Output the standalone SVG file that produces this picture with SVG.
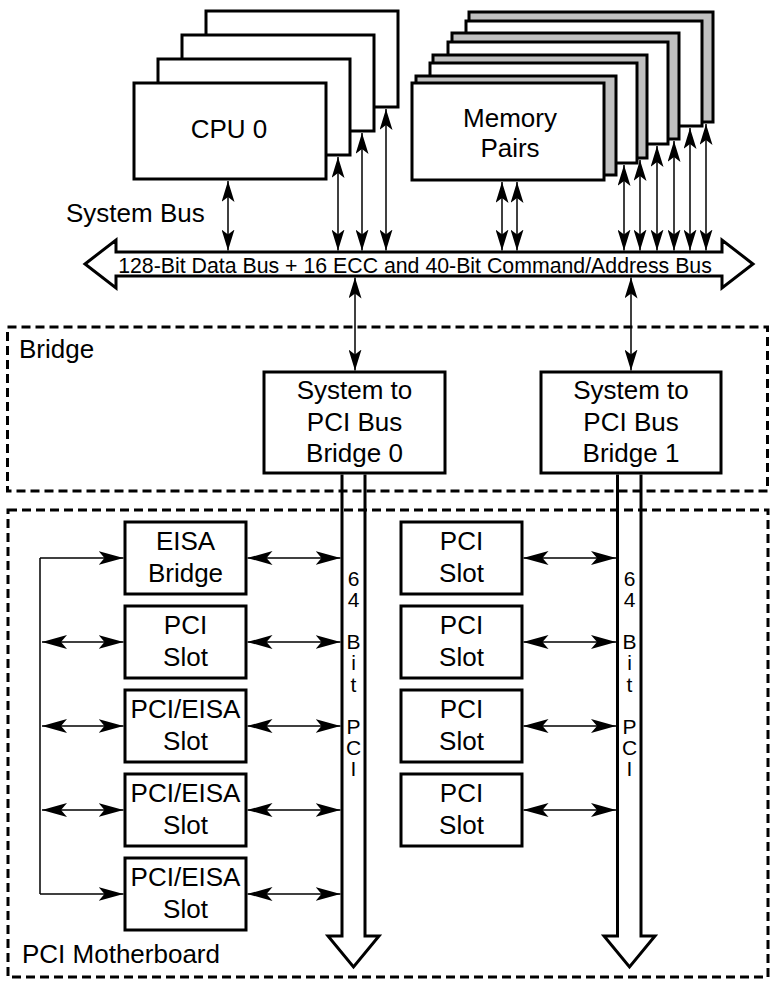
<svg xmlns="http://www.w3.org/2000/svg" width="770" height="982" viewBox="0 0 770 982">
<style>
.box{fill:#fff;stroke:#000;stroke-width:3}
.gray{fill:#c0c0c0;stroke:#000;stroke-width:3}
.dash{fill:none;stroke:#000;stroke-width:3;stroke-dasharray:9,5}
.lbl{font-family:"Liberation Sans",Arial,Helvetica,sans-serif;font-size:26px;fill:#000}
.c{text-anchor:middle}
.bus{font-family:"Liberation Sans",Arial,Helvetica,sans-serif;font-size:21.3px;fill:#000;text-anchor:middle}
.pipe{fill:none;stroke:#000;stroke-width:3}
.pt{font-family:"Liberation Sans",Arial,Helvetica,sans-serif;font-size:21px;fill:#000;text-anchor:middle}
.v{fill:none;stroke:#000;stroke-width:1.5;marker-start:url(#av);marker-end:url(#av)}
.h{fill:none;stroke:#000;stroke-width:1.5;marker-start:url(#ah);marker-end:url(#ah)}
.h1{fill:none;stroke:#000;stroke-width:1.5;marker-end:url(#ah)}
.ln{fill:none;stroke:#000;stroke-width:1.5}
</style>
<defs>
<marker id="av" markerUnits="userSpaceOnUse" viewBox="0 0 21 13" refX="21" refY="6.5" markerWidth="21" markerHeight="13" orient="auto-start-reverse">
<path d="M0,0 L21,6.5 L0,13 L5,6.5 Z" fill="#000"/>
</marker>
<marker id="ah" markerUnits="userSpaceOnUse" viewBox="0 0 25 14" refX="25" refY="7" markerWidth="25" markerHeight="14" orient="auto-start-reverse">
<path d="M0,0 L25,7 L0,14 L6,7 Z" fill="#000"/>
</marker>
</defs>
<rect width="770" height="982" fill="#fff"/>

<g id="bridge-region">
<rect class="dash" x="7.5" y="327" width="760" height="164"/>
<text class="lbl" x="19" y="358">Bridge</text>
</g>
<g id="motherboard-region">
<rect class="dash" x="8" y="510" width="760" height="467"/>
<text class="lbl" x="22" y="963">PCI Motherboard</text>
</g>

<g id="cpus">
<rect class="box" x="206" y="11" width="192" height="96"/>
<rect class="box" x="182" y="35" width="192" height="96"/>
<rect class="box" x="158" y="59" width="192" height="96"/>
<rect class="box" x="134" y="83" width="192" height="96"/>
<text class="lbl c" x="229" y="138">CPU 0</text>
</g>

<g id="memory">
<rect class="gray" x="469" y="12" width="244" height="110"/>
<rect class="box" x="466" y="21" width="236" height="105"/>
<rect class="gray" x="452" y="33" width="227" height="106"/>
<rect class="box" x="448" y="42" width="220" height="102"/>
<rect class="gray" x="433" y="55" width="214" height="103"/>
<rect class="box" x="430" y="63" width="207" height="100"/>
<rect class="gray" x="416" y="76" width="200" height="99"/>
<rect class="box" x="412" y="83" width="192" height="97"/>
<text class="lbl c" x="510" y="127">Memory</text>
<text class="lbl c" x="510" y="157">Pairs</text>
</g>

<g id="system-bus">
<polygon class="box" points="85,264 116,240 116,252 722,252 722,240 753,264 722,288 722,276 116,276 116,288"/>
<text class="bus" x="415" y="272.5">128-Bit Data Bus + 16 ECC and 40-Bit Command/Address Bus</text>
<text class="lbl" x="66" y="222">System Bus</text>
</g>

<g id="bridge0">
<rect class="box" x="264" y="372" width="181" height="101"/>
<text class="lbl c" x="354.5" y="399">System to</text>
<text class="lbl c" x="354.5" y="430.5">PCI Bus</text>
<text class="lbl c" x="354.5" y="462">Bridge 0</text>
</g>
<g id="bridge1">
<rect class="box" x="541" y="372" width="180" height="101"/>
<text class="lbl c" x="631" y="399">System to</text>
<text class="lbl c" x="631" y="430.5">PCI Bus</text>
<text class="lbl c" x="631" y="462">Bridge 1</text>
</g>

<g id="pci-bus-0">
<polyline class="pipe" points="342,474.5 342,936 328,936 353.5,967 379,936 365,936 365,474.5"/>
<text class="pt"><tspan x="353.5" y="586">6</tspan><tspan x="353.5" y="607.1">4</tspan><tspan x="353.5" y="649.3">B</tspan><tspan x="353.5" y="670.4">i</tspan><tspan x="353.5" y="691.5">t</tspan><tspan x="353.5" y="733.7">P</tspan><tspan x="353.5" y="754.8">C</tspan><tspan x="353.5" y="775.9">I</tspan></text>
</g>
<g id="pci-bus-1">
<polyline class="pipe" points="617.5,474.5 617.5,936 604,936 629.5,967 655,936 641,936 641,474.5"/>
<text class="pt"><tspan x="629.5" y="586">6</tspan><tspan x="629.5" y="607.1">4</tspan><tspan x="629.5" y="649.3">B</tspan><tspan x="629.5" y="670.4">i</tspan><tspan x="629.5" y="691.5">t</tspan><tspan x="629.5" y="733.7">P</tspan><tspan x="629.5" y="754.8">C</tspan><tspan x="629.5" y="775.9">I</tspan></text>
</g>

<g id="eisa-bridge">
<rect class="box" x="125" y="522" width="121" height="72"/>
<text class="lbl c" x="185.5" y="550">EISA</text>
<text class="lbl c" x="185.5" y="582">Bridge</text>
</g>
<g id="pci-slot-l1">
<rect class="box" x="125" y="606" width="121" height="72"/>
<text class="lbl c" x="185.5" y="634">PCI</text>
<text class="lbl c" x="185.5" y="666">Slot</text>
</g>
<g id="pci-eisa-slot-1">
<rect class="box" x="125" y="690" width="121" height="72"/>
<text class="lbl c" x="185.5" y="718">PCI/EISA</text>
<text class="lbl c" x="185.5" y="750">Slot</text>
</g>
<g id="pci-eisa-slot-2">
<rect class="box" x="125" y="774" width="121" height="72"/>
<text class="lbl c" x="185.5" y="802">PCI/EISA</text>
<text class="lbl c" x="185.5" y="834">Slot</text>
</g>
<g id="pci-eisa-slot-3">
<rect class="box" x="125" y="858" width="121" height="72"/>
<text class="lbl c" x="185.5" y="886">PCI/EISA</text>
<text class="lbl c" x="185.5" y="918">Slot</text>
</g>

<g id="pci-slot-r1">
<rect class="box" x="401" y="522" width="121" height="72"/>
<text class="lbl c" x="461.5" y="550">PCI</text>
<text class="lbl c" x="461.5" y="582">Slot</text>
</g>
<g id="pci-slot-r2">
<rect class="box" x="401" y="606" width="121" height="72"/>
<text class="lbl c" x="461.5" y="634">PCI</text>
<text class="lbl c" x="461.5" y="666">Slot</text>
</g>
<g id="pci-slot-r3">
<rect class="box" x="401" y="690" width="121" height="72"/>
<text class="lbl c" x="461.5" y="718">PCI</text>
<text class="lbl c" x="461.5" y="750">Slot</text>
</g>
<g id="pci-slot-r4">
<rect class="box" x="401" y="774" width="121" height="72"/>
<text class="lbl c" x="461.5" y="802">PCI</text>
<text class="lbl c" x="461.5" y="834">Slot</text>
</g>

<g id="connectors">
<line class="v" x1="228" y1="181" x2="228" y2="250.5"/>
<line class="v" x1="338" y1="157" x2="338" y2="250.5"/>
<line class="v" x1="362" y1="133" x2="362" y2="250.5"/>
<line class="v" x1="386" y1="109" x2="386" y2="250.5"/>
<line class="v" x1="502" y1="182" x2="502" y2="250.5"/>
<line class="v" x1="517" y1="182" x2="517" y2="250.5"/>
<line class="v" x1="624" y1="165" x2="624" y2="250.5"/>
<line class="v" x1="640" y1="160" x2="640" y2="250.5"/>
<line class="v" x1="657" y1="146" x2="657" y2="250.5"/>
<line class="v" x1="674" y1="141" x2="674" y2="250.5"/>
<line class="v" x1="690" y1="128" x2="690" y2="250.5"/>
<line class="v" x1="706" y1="124" x2="706" y2="250.5"/>
<line class="v" x1="355" y1="277.5" x2="355" y2="370.5"/>
<line class="v" x1="631" y1="277.5" x2="631" y2="370.5"/>
<line class="h" x1="247.5" y1="558" x2="340.5" y2="558"/>
<line class="h" x1="247.5" y1="642" x2="340.5" y2="642"/>
<line class="h" x1="247.5" y1="726" x2="340.5" y2="726"/>
<line class="h" x1="247.5" y1="810" x2="340.5" y2="810"/>
<line class="h" x1="247.5" y1="894" x2="340.5" y2="894"/>
<line class="h" x1="523.5" y1="558" x2="616" y2="558"/>
<line class="h" x1="523.5" y1="642" x2="616" y2="642"/>
<line class="h" x1="523.5" y1="726" x2="616" y2="726"/>
<line class="h" x1="523.5" y1="810" x2="616" y2="810"/>
<polyline class="ln" points="40,558 40,894"/>
<line class="h1" x1="40" y1="558" x2="123.5" y2="558"/>
<line class="h1" x1="40" y1="894" x2="123.5" y2="894"/>
<line class="h" x1="42" y1="642" x2="123.5" y2="642"/>
<line class="h" x1="42" y1="726" x2="123.5" y2="726"/>
<line class="h" x1="42" y1="810" x2="123.5" y2="810"/>
</g>
</svg>
